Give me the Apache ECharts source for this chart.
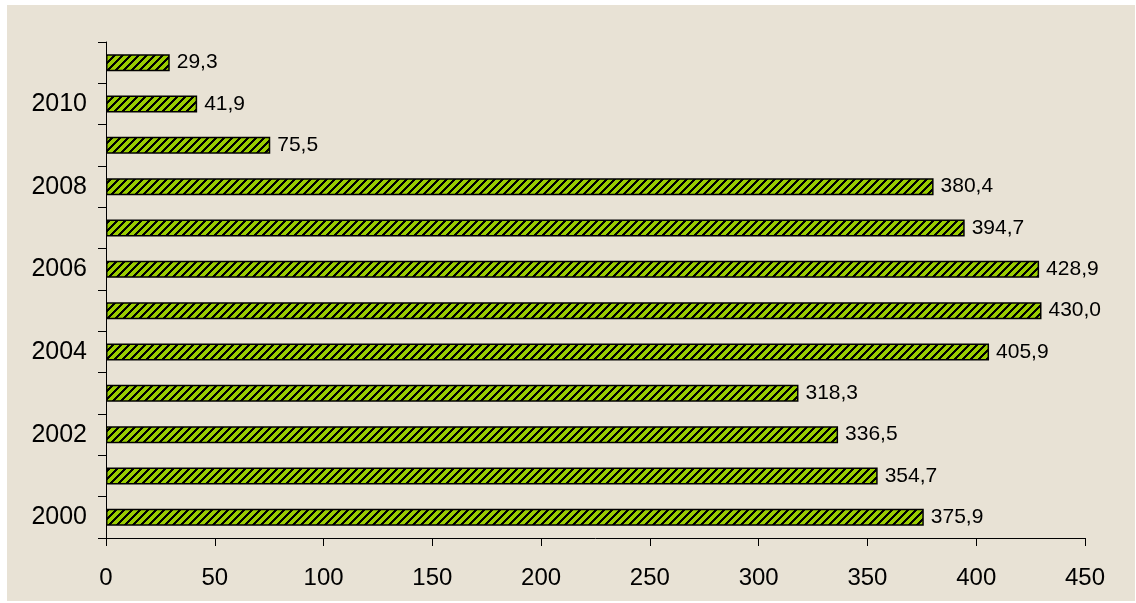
<!DOCTYPE html>
<html>
<head>
<meta charset="utf-8">
<script src="https://cdn.jsdelivr.net/npm/echarts@6/dist/echarts.min.js"></script>
<style>
  html, body { margin: 0; padding: 0; background: #ffffff; }
  #frame {
    position: absolute; left: 7px; top: 5px; width: 1128px; height: 596px;
    background: #e8e2d5;
  }
  #chart { position: absolute; left: 0; top: 0; width: 1136px; height: 603px; }
</style>
</head>
<body>
<div id="frame"></div>
<div id="chart"></div>
<script>
// Yearly values, bottom (2000) to top (2011)
const years = ['2000', '2001', '2002', '2003', '2004', '2005', '2006', '2007', '2008', '2009', '2010', '2011'];
const values = [375.9, 354.7, 336.5, 318.3, 405.9, 430.0, 428.9, 394.7, 380.4, 75.5, 41.9, 29.3];
const xTicks = { min: 0, max: 450, step: 50 };

// Diagonal black / yellow-green hatch used as the bar fill
function makeHatch() {
  const size = 8;
  const c = document.createElement('canvas');
  c.width = size; c.height = size;
  const ctx = c.getContext('2d');
  const img = ctx.createImageData(size, size);
  for (let y = 0; y < size; y++) {
    for (let x = 0; x < size; x++) {
      const i = (y * size + x) * 4;
      const dark = ((x + y) % size) < 3;
      img.data[i] = dark ? 0 : 0x99;
      img.data[i + 1] = dark ? 0 : 0xcc;
      img.data[i + 2] = 0;
      img.data[i + 3] = 255;
    }
  }
  ctx.putImageData(img, 0, 0);
  return c;
}

const font = '"Liberation Sans", Arial, sans-serif';
const chart = echarts.init(document.getElementById('chart'), null, { renderer: 'canvas' });

chart.setOption({
  backgroundColor: 'transparent',
  animation: false,
  grid: { left: 106, right: 51, top: 42, bottom: 65, containLabel: false },
  xAxis: {
    type: 'value',
    min: xTicks.min, max: xTicks.max, interval: xTicks.step,
    axisLine: { show: true, lineStyle: { color: '#000', width: 1 } },
    axisTick: { show: true, length: 8, lineStyle: { color: '#000', width: 1 } },
    splitLine: { show: false },
    axisLabel: { fontFamily: font, fontSize: 24, color: '#000', margin: 28 }
  },
  yAxis: {
    type: 'category',
    data: years,
    boundaryGap: true,
    axisLine: { show: true, lineStyle: { color: '#000', width: 1 } },
    axisTick: { show: true, interval: 0, length: 8, lineStyle: { color: '#000', width: 1 } },
    axisLabel: { interval: 1, fontFamily: font, fontSize: 25, color: '#000', margin: 19 }
  },
  series: [{
    type: 'bar',
    data: values,
    barWidth: 17,
    itemStyle: {
      color: { image: makeHatch(), repeat: 'repeat' },
      borderColor: '#000',
      borderWidth: 1.5
    },
    label: {
      show: true,
      position: 'right',
      distance: 7,
      fontFamily: font,
      fontSize: 21,
      color: '#000',
      formatter: p => p.value.toFixed(1).replace('.', ',')
    }
  }]
});
</script>
</body>
</html>
